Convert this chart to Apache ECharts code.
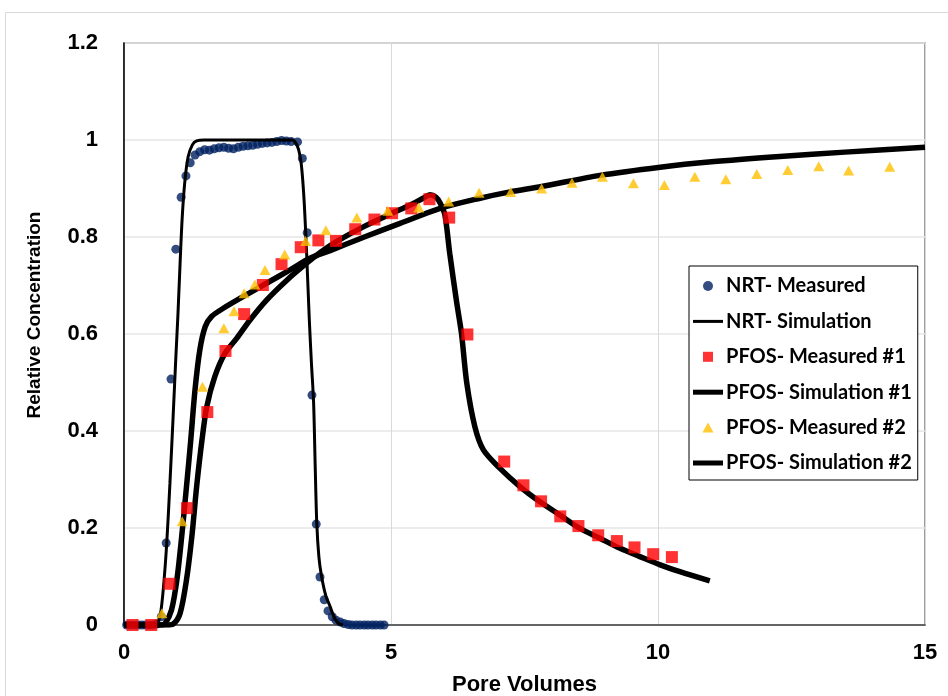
<!DOCTYPE html>
<html><head><meta charset="utf-8">
<script src="https://cdn.jsdelivr.net/npm/echarts@6/dist/echarts.min.js"></script>
<style>html,body{margin:0;padding:0;background:#fff}#c{width:948px;height:696px}</style>
</head><body><div id="c"></div>
<script>
// NRT measured
var nrtMeasX = [0.05,0.12,0.19,0.26,0.33,0.40,0.47,0.54,0.61,0.70,0.79,0.88,0.97,1.07,1.16,1.24,1.33,1.42,1.51,1.60,1.69,1.78,1.87,1.96,2.05,2.14,2.23,2.32,2.41,2.50,2.59,2.68,2.77,2.86,2.95,3.04,3.13,3.25,3.34,3.43,3.52,3.60,3.67,3.75,3.82,3.90,3.97,4.05,4.12,4.20,4.27,4.35,4.42,4.50,4.57,4.65,4.72,4.80,4.87];
var nrtMeasY = [0,0,0,0,0,0,0,0,0.002,0.017,0.169,0.507,0.775,0.882,0.926,0.953,0.969,0.976,0.980,0.979,0.982,0.984,0.985,0.983,0.982,0.985,0.987,0.988,0.989,0.991,0.993,0.994,0.995,0.997,0.999,0.998,0.997,0.996,0.962,0.809,0.474,0.208,0.099,0.052,0.029,0.017,0.010,0.006,0.003,0.001,0,0,0,0,0,0,0,0,0];
// NRT simulation
var nrtSimX = [0,0.55,0.62,0.68,0.74,0.80,0.86,0.92,0.97,1.01,1.05,1.09,1.14,1.20,1.28,1.36,1.50,3.15,3.21,3.27,3.32,3.37,3.42,3.47,3.51,3.55,3.58,3.61,3.65,3.70,3.78,3.86,3.94,4.01,4.10];
var nrtSimY = [0,0,0.003,0.02,0.079,0.168,0.292,0.43,0.55,0.64,0.745,0.84,0.915,0.965,0.99,0.998,1.0,1.0,0.995,0.98,0.95,0.88,0.766,0.63,0.54,0.46,0.33,0.21,0.14,0.1,0.06,0.038,0.015,0.004,0];
// PFOS measured #1
var p1X = [0.16,0.51,0.85,1.18,1.56,1.90,2.25,2.60,2.95,3.31,3.64,3.97,4.33,4.69,5.02,5.38,5.72,6.09,6.43,7.12,7.48,7.81,8.17,8.51,8.88,9.23,9.56,9.91,10.26];
var p1Y = [0,0,0.085,0.241,0.439,0.565,0.641,0.701,0.744,0.779,0.793,0.792,0.816,0.836,0.849,0.859,0.878,0.840,0.599,0.337,0.288,0.255,0.224,0.204,0.185,0.173,0.160,0.146,0.140];
// PFOS simulation #1
var s1X = [0,0.80,0.92,1.05,1.17,1.27,1.36,1.46,1.55,1.70,1.89,2.11,2.36,2.67,3.05,3.42,3.70,4.00,4.50,5.00,5.40,5.60,5.73,5.84,5.92,6.01,6.10,6.23,6.32,6.42,6.57,6.73,7.04,7.42,7.79,8.16,8.54,8.91,9.29,9.66,10.04,10.41,10.97];
var s1Y = [0,0,0.002,0.024,0.093,0.182,0.285,0.381,0.45,0.512,0.56,0.591,0.629,0.67,0.711,0.746,0.77,0.792,0.822,0.848,0.868,0.88,0.887,0.882,0.87,0.845,0.766,0.665,0.601,0.498,0.409,0.361,0.323,0.285,0.254,0.227,0.199,0.179,0.158,0.141,0.124,0.11,0.091];
// PFOS measured #2
var p2X = [0.71,1.09,1.47,1.87,2.06,2.25,2.45,2.64,3.01,3.40,3.78,4.36,4.94,5.52,6.08,6.65,7.24,7.82,8.39,8.96,9.54,10.12,10.69,11.27,11.85,12.43,13.01,13.57,14.34];
var p2Y = [0.024,0.214,0.491,0.612,0.647,0.684,0.702,0.732,0.764,0.792,0.814,0.840,0.854,0.861,0.873,0.891,0.893,0.900,0.912,0.924,0.911,0.907,0.924,0.919,0.930,0.938,0.946,0.937,0.945];
// PFOS simulation #2
var s2X = [0,0.70,0.77,0.89,0.99,1.08,1.17,1.25,1.33,1.42,1.52,1.64,1.86,2.23,2.61,3.11,3.48,3.86,4.50,5.17,5.92,6.67,7.23,7.82,8.91,10.04,11.0,12.28,13.5,15.0];
var s2Y = [0,0,0.003,0.031,0.093,0.182,0.285,0.381,0.485,0.567,0.615,0.636,0.653,0.677,0.701,0.732,0.756,0.772,0.80,0.828,0.859,0.88,0.893,0.904,0.927,0.944,0.955,0.966,0.975,0.985];

var seriesNames = ['NRT- Measured','NRT- Simulation','PFOS- Measured #1','PFOS- Simulation #1','PFOS- Measured #2','PFOS- Simulation #2'];
var xTicks = {min:0, max:15, interval:5};
var yTicks = {min:0, max:1.2, interval:0.2};

function zip(a,b){return a.map(function(v,i){return [v,b[i]];});}

var axisFont = "'Liberation Sans', Arial, sans-serif";
var legFont = "Lato, 'Noto Sans', sans-serif";

var icons = [
  'circle',
  'path://M0,0L30,0L30,3L0,3Z',
  'path://M0,0L10,0L10,10L0,10Z',
  'path://M0,0L30,0L30,5L0,5Z',
  'path://M5,0L10,9L0,9Z',
  'path://M0,0L30,0L30,5L0,5Z'
];

var chart = echarts.init(document.getElementById('c'), null, {renderer:'canvas'});
chart.setOption({
  animation:false,
  backgroundColor:'#fff',
  graphic:[{type:'rect', shape:{x:5.5,y:12.5,width:1000,height:1000}, style:{fill:'none',stroke:'#d9d9d9',lineWidth:1}, z:-10}],
  grid:{left:124,right:23,top:43,bottom:71,containLabel:false,outerBoundsMode:'none',show:true,borderColor:'#7f7f7f',borderWidth:1.5,backgroundColor:'transparent'},
  legend:{
    orient:'vertical', left:689, top:266,
    backgroundColor:'#fff', borderColor:'#000', borderWidth:1,
    padding:[10,6,7,4], itemWidth:30, itemHeight:10, itemGap:15.4,
    textStyle:{fontFamily:legFont, fontWeight:'bold', fontSize:20, color:'#000', padding:[0,0,0,-2]},
    data:seriesNames.map(function(n,i){return {name:n, icon:icons[i]};})
  },
  xAxis:{type:'value', min:xTicks.min, max:xTicks.max, interval:xTicks.interval,
    name:'Pore Volumes', nameLocation:'middle', nameGap:49,
    nameTextStyle:{fontFamily:axisFont, fontWeight:'bold', fontSize:22, color:'#000'},
    axisLine:{show:true, lineStyle:{color:'#404040', width:1.5}},
    axisTick:{show:false},
    axisLabel:{fontFamily:axisFont, fontWeight:'bold', fontSize:22, color:'#000', margin:17},
    splitLine:{show:true, lineStyle:{color:'#d9d9d9', width:1}}
  },
  yAxis:{type:'value', min:yTicks.min, max:yTicks.max, interval:yTicks.interval,
    name:'Relative Concentration', nameLocation:'middle', nameGap:80, nameRotate:90,
    nameTextStyle:{fontFamily:axisFont, fontWeight:'bold', fontSize:19, color:'#000', padding:[0,0,0,38]},
    axisLine:{show:true, lineStyle:{color:'#000', width:1.5}},
    axisTick:{show:false},
    axisLabel:{fontFamily:axisFont, fontWeight:'bold', fontSize:22, color:'#000', margin:26},
    splitLine:{show:true, lineStyle:{color:'#e6e6e6', width:1.5}}
  },
  series:[
    {name:seriesNames[0], type:'scatter', data:zip(nrtMeasX,nrtMeasY), symbol:'circle', symbolSize:9, itemStyle:{color:'#002060'}, z:2},
    {name:seriesNames[1], type:'line', data:zip(nrtSimX,nrtSimY), symbol:'none', smooth:0.3, lineStyle:{color:'#000', width:3}, itemStyle:{color:'#000'}, z:3},
    {name:seriesNames[2], type:'scatter', data:zip(p1X,p1Y), symbol:'rect', symbolSize:12, itemStyle:{color:'#ff0000'}, z:4},
    {name:seriesNames[3], type:'line', data:zip(s1X,s1Y), symbol:'none', smooth:0.3, lineStyle:{color:'#000', width:5.5}, itemStyle:{color:'#000'}, z:3},
    {name:seriesNames[4], type:'scatter', data:zip(p2X,p2Y), symbol:'triangle', symbolSize:[11,10], itemStyle:{color:'#ffc000'}, z:4},
    {name:seriesNames[5], type:'line', data:zip(s2X,s2Y), symbol:'none', smooth:0.3, lineStyle:{color:'#000', width:5.5}, itemStyle:{color:'#000'}, z:3}
  ]
});
</script>
</body></html>
